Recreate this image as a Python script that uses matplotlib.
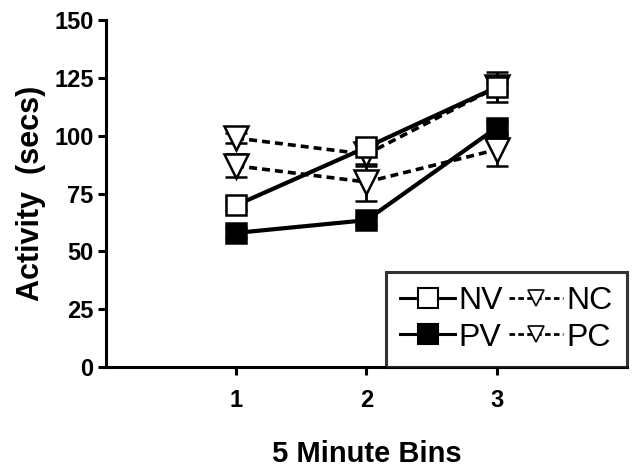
import matplotlib
matplotlib.use("Agg")
import matplotlib.pyplot as plt
from matplotlib.lines import Line2D

plt.rcParams['font.family'] = ['Liberation Sans', 'DejaVu Sans']

bins = [1, 2, 3]
nv = [70, 95, 121]
nv_err = [2, 2, 6.5]
pv = [58, 63.5, 103.5]
pv_err = [2, 2, 3]
nc = [99, 92, 121]
nc_err = [2, 5, 2]
pc = [87, 80, 94]
pc_err = [5, 8, 7]

fig = plt.figure(figsize=(6.41, 4.69), dpi=100)
ax = fig.add_axes([0.1654, 0.2175, 0.8126, 0.7395])

dash = (0, (2.2, 1.4))
common = dict(color='black', ecolor='black', elinewidth=2, capsize=8, capthick=2,
              markeredgewidth=1.8, markeredgecolor='black')

ax.errorbar(bins, nc, yerr=nc_err, marker='v', markersize=17, markerfacecolor='white',
            linestyle=dash, linewidth=2.6, zorder=2, **common)
ax.errorbar(bins, pc, yerr=pc_err, marker='v', markersize=17, markerfacecolor='white',
            linestyle=dash, linewidth=2.6, zorder=2, **common)
ax.errorbar(bins, nv, yerr=nv_err, marker='s', markersize=15, markerfacecolor='white',
            linestyle='-', linewidth=3, zorder=3, **common)
ax.errorbar(bins, pv, yerr=pv_err, marker='s', markersize=15, markerfacecolor='black',
            linestyle='-', linewidth=3, zorder=3, **common)

ax.set_xlim(0, 4)
ax.set_ylim(0, 150)
ax.set_xticks(bins)
ax.set_yticks([0, 25, 50, 75, 100, 125, 150])
for s in ['top', 'right']:
    ax.spines[s].set_visible(False)
for s in ['left', 'bottom']:
    ax.spines[s].set_linewidth(2.2)
ax.tick_params(direction='out', length=6, width=2.2, labelsize=17, pad=3)
for t in ax.get_xticklabels() + ax.get_yticklabels():
    t.set_fontweight('bold')
ax.tick_params(axis='x', pad=10)

ax.set_xlabel('5 Minute Bins', fontsize=21, fontweight='bold', labelpad=20)
ax.set_ylabel('Activity  (secs)', fontsize=22, fontweight='bold', labelpad=6)

handles = [
    Line2D([], [], color='black', lw=2.2, marker='s', markersize=15,
           markerfacecolor='white', markeredgewidth=1.5),
    Line2D([], [], color='black', lw=2.2, marker='s', markersize=15,
           markerfacecolor='black', markeredgewidth=1.5),
    Line2D([], [], color='black', lw=2, linestyle=(0, (2, 1.2)), marker='v', markersize=11,
           markerfacecolor='white', markeredgewidth=1.2),
    Line2D([], [], color='black', lw=2, linestyle=(0, (2, 1.2)), marker='v', markersize=11,
           markerfacecolor='white', markeredgewidth=1.2),
]
leg = ax.legend(handles, ['NV', 'PV', 'NC', 'PC'], ncol=2,
                loc='lower right', bbox_to_anchor=(1.0, 0.0), fontsize=23,
                frameon=True, fancybox=False, edgecolor='black', handlelength=1.7,
                handletextpad=0.1, columnspacing=0.2, borderpad=0.45, labelspacing=0.2,
                borderaxespad=0)
leg.get_frame().set_linewidth(2.2)

fig.savefig('out.png', dpi=100)
